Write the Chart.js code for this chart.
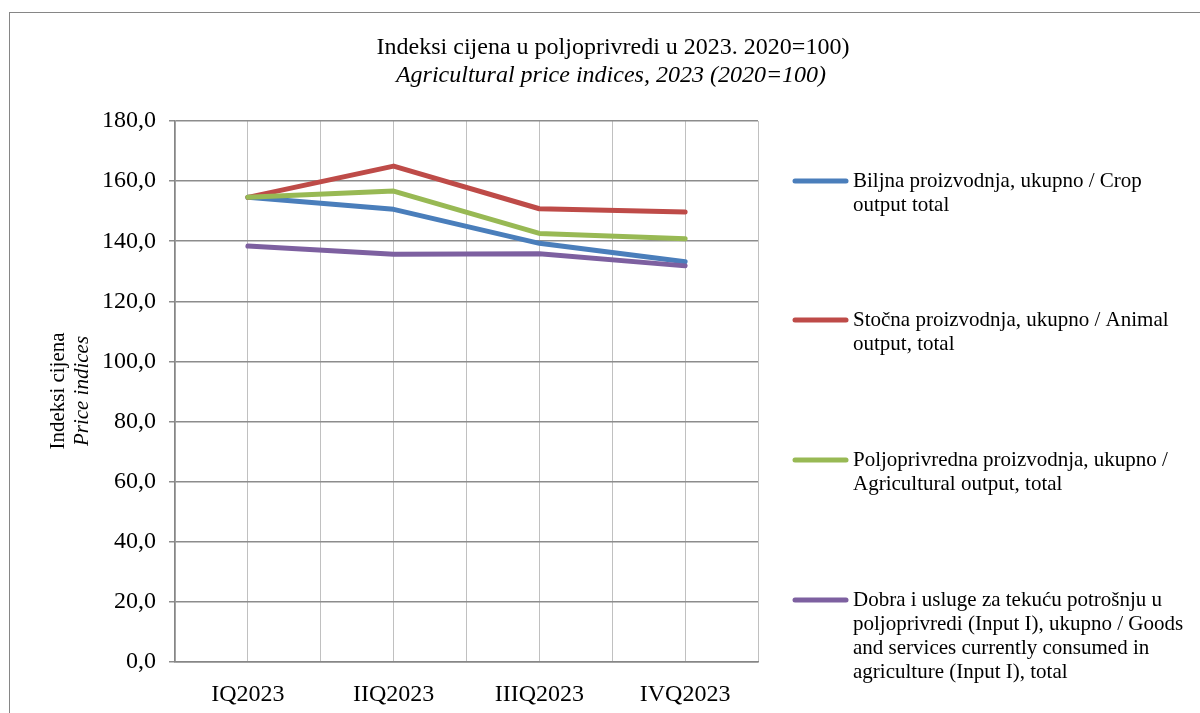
<!DOCTYPE html>
<html>
<head>
<meta charset="utf-8">
<script src="https://cdn.jsdelivr.net/npm/chart.js@4.4.1/dist/chart.umd.min.js"></script>
<style>
  html, body { margin: 0; padding: 0; background: #fff; }
  #wrap { width: 1200px; height: 713px; }
</style>
</head>
<body>
<div id="wrap"><canvas id="c" width="1200" height="713"></canvas></div>
<script>
// podaci
const kvartali = ['IQ2023', 'IIQ2023', 'IIIQ2023', 'IVQ2023'];
const biljna = [154.6, 150.6, 139.3, 133.2];
const stocna = [154.6, 165.0, 150.8, 149.7];
const poljoprivredna = [154.6, 156.7, 142.6, 140.8];
const inputI = [138.4, 135.7, 135.8, 131.8];
const yTicks = [0, 20, 40, 60, 80, 100, 120, 140, 160, 180];

const naslov = 'Indeksi cijena u poljoprivredi u 2023. 2020=100)';
const podnaslov = 'Agricultural price indices, 2023 (2020=100)';
const serije = [
  { data: biljna, color: '#4A7EBB', label: ['Biljna proizvodnja, ukupno / Crop', 'output total'] },
  { data: stocna, color: '#BE4B48', label: ['Stočna proizvodnja, ukupno / Animal', 'output, total'] },
  { data: poljoprivredna, color: '#98B954', label: ['Poljoprivredna proizvodnja, ukupno /', 'Agricultural output, total'] },
  { data: inputI, color: '#7D60A0', label: ['Dobra i usluge za tekuću potrošnju u', 'poljoprivredi (Input I), ukupno / Goods', 'and services currently consumed in', 'agriculture (Input I), total'] }
];
const legendY = [181, 320, 460, 600];

const FONT = '"Liberation Serif", "Times New Roman", serif';

// okvir, naslov, naslov osi i legenda
const ukrasi = {
  id: 'ukrasi',
  beforeDraw(chart) {
    const ctx = chart.ctx;
    ctx.save();
    ctx.fillStyle = '#fff';
    ctx.fillRect(0, 0, chart.width, chart.height);
    ctx.strokeStyle = '#868686';
    ctx.lineWidth = 1;
    ctx.strokeRect(9.5, 12.5, 1250, 800);
    ctx.restore();
  },
  afterDraw(chart) {
    const ctx = chart.ctx;
    ctx.save();
    ctx.fillStyle = '#000';
    ctx.textAlign = 'center';
    ctx.textBaseline = 'middle';
    ctx.font = '24px ' + FONT;
    ctx.fillText(naslov, 613, 48);
    ctx.font = 'italic 24px ' + FONT;
    ctx.fillText(podnaslov, 611, 76);

    // naslov y osi
    ctx.save();
    ctx.translate(58, 391);
    ctx.rotate(-Math.PI / 2);
    ctx.font = '21px ' + FONT;
    ctx.fillText('Indeksi cijena', 0, 0);
    ctx.font = 'italic 21px ' + FONT;
    ctx.fillText('Price indices', 0, 24);
    ctx.restore();

    // legenda
    ctx.textAlign = 'left';
    ctx.font = '21px ' + FONT;
    serije.forEach((s, i) => {
      const y = legendY[i];
      ctx.strokeStyle = s.color;
      ctx.lineWidth = 5;
      ctx.lineCap = 'round';
      ctx.beginPath();
      ctx.moveTo(795, y);
      ctx.lineTo(846, y);
      ctx.stroke();
      s.label.forEach((t, j) => ctx.fillText(t, 853, y + j * 24));
    });
    ctx.restore();
  }
};

new Chart(document.getElementById('c'), {
  type: 'line',
  data: {
    datasets: serije.map((s, i) => ({
      label: s.label.join(' '),
      data: s.data.map((v, k) => ({ x: k, y: v })),
      borderColor: s.color,
      backgroundColor: s.color,
      borderWidth: 5,
      pointRadius: 0,
      tension: 0,
      borderCapStyle: 'round',
      borderJoinStyle: 'round',
      order: serije.length - i
    }))
  },
  options: {
    responsive: false,
    animation: false,
    layout: { padding: { left: 0, top: 121, right: 442, bottom: 0 } },
    plugins: {
      legend: { display: false },
      title: { display: false },
      tooltip: { enabled: false }
    },
    scales: {
      x: {
        type: 'linear',
        min: -0.5,
        max: 3.5,
        afterBuildTicks(scale) {
          const t = [];
          for (let v = -0.5; v <= 3.5; v += 0.5) t.push({ value: v });
          scale.ticks = t;
        },
        afterFit(scale) { scale.height = 51; },
        grid: { color: '#c0c0c0', lineWidth: 1, drawTicks: false },
        border: { color: '#868686', width: 1.5 },
        ticks: {
          autoSkip: false,
          maxRotation: 0,
          padding: 18,
          color: '#000',
          font: { family: FONT, size: 24 },
          callback: v => Number.isInteger(v) ? kvartali[v] : ''
        }
      },
      y: {
        min: 0,
        max: 180,
        afterBuildTicks(scale) {
          scale.ticks = yTicks.map(v => ({ value: v }));
        },
        afterFit(scale) { scale.width = 175; },
        grid: { color: '#8c8c8c', lineWidth: 1.5, tickLength: 6 },
        border: { color: '#868686', width: 1.5 },
        ticks: {
          padding: 13,
          color: '#000',
          font: { family: FONT, size: 24 },
          callback: v => v.toFixed(1).replace('.', ',')
        }
      }
    }
  },
  plugins: [ukrasi]
});
</script>
</body>
</html>
